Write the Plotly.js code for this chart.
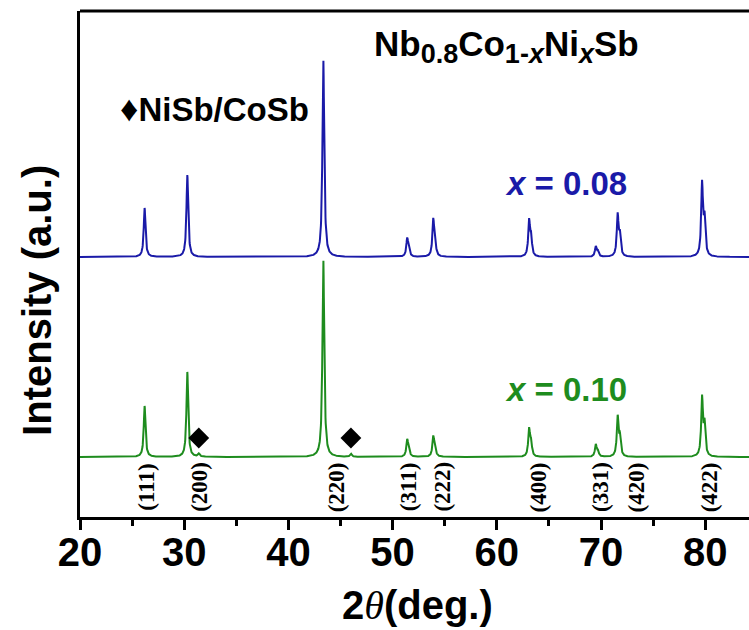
<!DOCTYPE html>
<html>
<head>
<meta charset="utf-8">
<script src="https://cdn.plot.ly/plotly-3.0.1.min.js"></script>
<style>html,body{margin:0;padding:0;background:#fff;overflow:hidden;}</style>
</head>
<body>
<div id="chart" style="width:749px;height:630px;"></div>
<script>
// ---- data ----
const hklLabels = ['(111)','(200)','(220)','(311)','(222)','(400)','(331)','(420)','(422)'];
const hklLabel2theta = [26.3, 31.4, 44.6, 51.5, 54.7, 64.0, 69.9, 73.4, 80.4];
const peak2theta = [26.2, 30.3, 43.35, 51.4, 53.9, 63.1, 69.5, 71.6, 79.7];
const heightX008 = [49, 82, 196, 17, 35, 35, 10, 41, 72];
const shoulderX008 = [0, 0, 5, 8, 15, 18, 5, 20, 35];
const heightX010 = [51, 85, 196, 16, 19, 27, 12, 39, 58];
const shoulderX010 = [0, 0, 5, 7, 9, 13, 5, 18, 30];
const impurity2theta = [31.4, 46.0];
const impurityX010 = [3, 3];
const impurityMarkerY = [19, 19];
const offsetX008 = 200;
const offsetX010 = 0;
const seriesNames = ['x = 0.08', 'x = 0.10'];

// ---- build profiles from the peak list ----
const hwhm = 0.1;
function lor(x, c, h){ const d = (x - c) / hwhm; return h / (1 + d*d); }
function profile(pos, hs, sh, extraPos, extraH, offset){
  const xs = [], ys = [];
  for (let i = 0; i <= 3250; i++) {
    const x = 20 + i * 0.02;
    let y = offset;
    for (let k = 0; k < pos.length; k++) {
      y += lor(x, pos[k], hs[k]);
      if (sh[k] > 0) y += lor(x, pos[k] + 0.003 * pos[k], sh[k]);
    }
    for (let k = 0; k < extraPos.length; k++) y += lor(x, extraPos[k], extraH[k]);
    xs.push(x); ys.push(y);
  }
  return {xs, ys};
}
const blue = '#1a1aa8', green = '#1e8c1e';
const p1 = profile(peak2theta, heightX008, shoulderX008, [], [], offsetX008);
const p2 = profile(peak2theta, heightX010, shoulderX010, impurity2theta, impurityX010, offsetX010);

const traces = [
  {x: p1.xs, y: p1.ys, mode: 'lines', line: {color: blue, width: 2}, name: seriesNames[0], hoverinfo: 'skip'},
  {x: p2.xs, y: p2.ys, mode: 'lines', line: {color: green, width: 2}, name: seriesNames[1], hoverinfo: 'skip'},
  {x: impurity2theta, y: impurityMarkerY, mode: 'markers', marker: {symbol: 'diamond', size: 16, color: '#000'}, hoverinfo: 'skip'}
];

const sans = 'Liberation Sans, Arial, sans-serif';
const ann = [];
hklLabels.forEach((t, i) => ann.push({
  x: hklLabel2theta[i], y: -30, xref: 'x', yref: 'y', text: t, showarrow: false, textangle: -90,
  xanchor: 'center', yanchor: 'middle',
  font: {family: 'Liberation Serif, Times New Roman, serif', size: 23, color: '#000', weight: 'bold'}
}));
ann.push({x: 60.9, y: 411, xref: 'x', yref: 'y', showarrow: false, xanchor: 'center', yanchor: 'middle',
  text: '<b>Nb<sub><span style="font-size:27px">0.8</span></sub>Co<sub><span style="font-size:27px">1-<i>x</i></span></sub>Ni<sub><span style="font-size:27px"><i>x</i></span></sub>Sb</b>',
  font: {family: sans, size: 35, color: '#000'}});
ann.push({x: 32.86, y: 349, xref: 'x', yref: 'y', showarrow: false, xanchor: 'center', yanchor: 'middle',
  text: '<b><span style="font-size:36px">♦</span>NiSb/CoSb</b>',
  font: {family: sans, size: 33, color: '#000'}});
ann.push({x: 66.64, y: 274, xref: 'x', yref: 'y', showarrow: false, xanchor: 'center', yanchor: 'middle',
  text: '<b><i>x</i> = 0.08</b>', font: {family: sans, size: 33, color: blue}});
ann.push({x: 66.64, y: 68, xref: 'x', yref: 'y', showarrow: false, xanchor: 'center', yanchor: 'middle',
  text: '<b><i>x</i> = 0.10</b>', font: {family: sans, size: 33, color: green}});
ann.push({x: -0.0643, y: 0.429, xref: 'paper', yref: 'paper', showarrow: false, textangle: -90,
  xanchor: 'center', yanchor: 'middle',
  text: '<b>Intensity (a.u.)</b>', font: {family: sans, size: 40, color: '#000'}});
ann.push({x: 0.505, y: -0.174, xref: 'paper', yref: 'paper', showarrow: false,
  xanchor: 'center', yanchor: 'middle',
  text: '<b>2</b><span style="font-family:Liberation Serif"><i>θ</i></span><b>(deg.)</b>',
  font: {family: sans, size: 40, color: '#000'}});

const layout = {
  width: 749, height: 630,
  margin: {l: 80, r: 0, t: 11, b: 113},
  paper_bgcolor: '#fff', plot_bgcolor: '#fff',
  showlegend: false,
  xaxis: {
    range: [20, 20 + 669 / 10.42], showline: true, linewidth: 3, linecolor: '#000',
    showgrid: false, zeroline: false, ticks: 'outside', ticklen: 10, tickwidth: 3, tickcolor: '#000',
    dtick: 10, tick0: 20, ticklabelstandoff: -12,
    tickfont: {family: sans, size: 40, color: '#000', weight: 'bold'},
    minor: {dtick: 5, ticks: 'outside', ticklen: 6, tickwidth: 3, tickcolor: '#000', showgrid: false}
  },
  yaxis: {
    range: [-60, 446], showline: true, linewidth: 3, linecolor: '#000',
    showgrid: false, zeroline: false, ticks: '', showticklabels: false
  },
  shapes: [{type: 'line', xref: 'paper', yref: 'paper', x0: 0, x1: 1, y0: 1, y1: 1, line: {color: '#000', width: 3}}],
  annotations: ann
};
Plotly.newPlot('chart', traces, layout, {displayModeBar: false, staticPlot: true});
</script>
</body>
</html>
